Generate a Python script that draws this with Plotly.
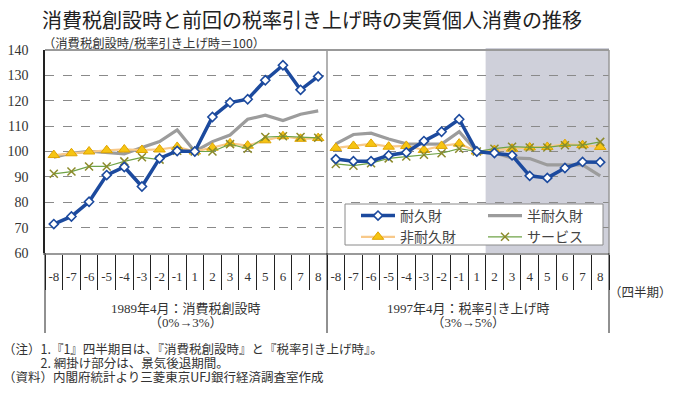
import plotly.graph_objects as go

# ---------------- data ----------------
quarters = ["-8", "-7", "-6", "-5", "-4", "-3", "-2", "-1", "1", "2", "3", "4", "5", "6", "7", "8"]
period_labels = ["1989年4月：消費税創設時", "1997年4月：税率引き上げ時"]
period_rates = ["（0%→3%）", "（3%→5%）"]
series_names = ["耐久財", "半耐久財", "非耐久財", "サービス"]

durable_1989 = [71.4, 74.4, 80.2, 90.7, 93.9, 86.2, 97.3, 100.2, 100.0, 113.6, 119.3, 120.6, 128.1, 134.0, 124.3, 129.6]
durable_1997 = [97.0, 96.2, 96.2, 98.5, 99.6, 104.1, 107.8, 112.7, 100.0, 99.4, 98.5, 90.4, 89.6, 93.5, 95.9, 95.8]
semi_1989 = [97.8, 99.3, 100.1, 99.6, 99.1, 101.6, 103.9, 108.5, 100.0, 103.9, 106.5, 112.7, 114.3, 112.2, 114.7, 116.0]
semi_1997 = [103.0, 106.7, 107.2, 104.9, 103.0, 102.9, 102.9, 107.8, 100.0, 99.4, 97.5, 97.2, 94.7, 94.7, 94.7, 90.4]
nondur_1989 = [98.6, 99.3, 100.0, 100.5, 100.8, 100.6, 100.8, 101.8, 100.0, 101.5, 103.2, 102.3, 104.4, 106.0, 105.0, 105.3]
nondur_1997 = [101.4, 102.2, 103.0, 101.9, 102.2, 100.6, 102.2, 103.1, 100.0, 100.6, 101.1, 101.6, 101.8, 102.9, 102.5, 101.8]
service_1989 = [91.2, 92.1, 94.1, 94.1, 96.1, 97.7, 96.8, 100.3, 100.0, 100.0, 102.9, 101.1, 105.7, 106.0, 105.7, 105.4]
service_1997 = [95.1, 94.4, 95.4, 97.3, 98.0, 98.7, 99.3, 101.1, 100.0, 101.1, 101.9, 101.6, 101.6, 102.5, 102.5, 103.8]

recession_start = ("1997", "2")  # shaded from this quarter of the 1997 panel to the end

y_ticks = [60, 70, 80, 90, 100, 110, 120, 130, 140]

# ---------------- layout geometry ----------------
W, H = 673, 397
L, R, T, B = 45, 64, 50, 144
PW, PH = W - L - R, H - T - B

def px(x):
    return (x - L) / PW

def py(y):
    return (H - B - y) / PH

JP = "Noto Sans CJK JP"
SERIF = "Liberation Serif, Noto Sans CJK JP"

n_q = len(quarters)
n_cat = 2 * n_q
pos_left = list(range(n_q))
pos_right = list(range(n_q, n_cat))

fig = go.Figure()

styles = {
    "半耐久財": dict(mode="lines", line=dict(color="#9c9c9c", width=3.2), legendrank=1, legend="legend2"),
    "非耐久財": dict(mode="lines+markers", line=dict(color="#f8c98a", width=2.2),
                  marker=dict(symbol="triangle-up", size=10, color="#f6c412", line=dict(color="#e0a400", width=1)),
                  legendrank=2, legend="legend"),
    "サービス": dict(mode="lines+markers", line=dict(color="#6fa347", width=1.2),
                  marker=dict(symbol="x-thin", size=8, color="#8c8a2a", line=dict(color="#8c8a2a", width=1.5)),
                  legendrank=2, legend="legend2"),
    "耐久財": dict(mode="lines+markers", line=dict(color="#1c4a9e", width=3.5),
                marker=dict(symbol="diamond", size=7, color="white", line=dict(color="#1c4a9e", width=1.6)),
                legendrank=1, legend="legend"),
}
data = {
    "耐久財": (durable_1989, durable_1997),
    "半耐久財": (semi_1989, semi_1997),
    "非耐久財": (nondur_1989, nondur_1997),
    "サービス": (service_1989, service_1997),
}

for name in ["半耐久財", "非耐久財", "サービス", "耐久財"]:
    a, b = data[name]
    st = styles[name]
    fig.add_trace(go.Scatter(x=pos_left, y=a, name=name, showlegend=True, legendgroup=name, **st))
    fig.add_trace(go.Scatter(x=pos_right, y=b, name=name, showlegend=False, legendgroup=name, **st))

rec_idx = n_q + quarters.index(recession_start[1])

shapes = [
    # recession shading (above grid, below traces)
    dict(type="rect", xref="paper", yref="paper", x0=rec_idx / n_cat, x1=1, y0=0, y1=1.01,
         fillcolor="#cfd0da", line=dict(width=0), layer="between"),
    # panel divider inside plot
    dict(type="line", xref="paper", yref="paper", x0=0.5, x1=0.5, y0=0, y1=1,
         line=dict(color="#999999", width=1.5), layer="above"),
    # top border
    dict(type="line", xref="paper", yref="paper", x0=0, x1=1, y0=1, y1=1,
         line=dict(color="#999999", width=2), layer="above"),
    # right border
    dict(type="line", xref="paper", yref="paper", x0=1, x1=1, y0=0, y1=1,
         line=dict(color="#999999", width=1.5), layer="above"),
    # legend box
    dict(type="rect", xref="paper", yref="paper", x0=px(345), x1=px(603), y0=py(245), y1=py(204),
         fillcolor="white", line=dict(color="#8a8a8a", width=1), layer="above"),
]
# long dividers of the label table below the plot
for k in (0, n_q, n_cat):
    shapes.append(dict(type="line", xref="paper", yref="paper", x0=k / n_cat, x1=k / n_cat,
                       y0=0, y1=py(333), line=dict(color="#222222", width=1)))

notes = ("<span style='font-size:12.5px'>（注）1.『1』四半期目は、『消費税創設時』と『税率引き上げ時』。</span><br>"
         "<span style='font-size:12.5px'>\u3000\u3000\u30002. 網掛け部分は、景気後退期間。</span><br>"
         "<span style='font-size:12.5px'>（資料）内閣府統計より三菱東京UFJ銀行経済調査室作成</span>")

annotations = [
    dict(text="消費税創設時と前回の税率引き上げ時の実質個人消費の推移", x=px(40), y=py(19),
         xanchor="left", yanchor="middle", font=dict(family=JP, size=20, color="#222222")),
    dict(text="（消費税創設時/税率引き上げ時＝100）", x=px(41), y=py(43),
         xanchor="left", yanchor="middle", font=dict(family=JP, size=12.3, color="#333333")),
    dict(text="（四半期）", x=px(640), y=py(291), xanchor="center", yanchor="middle",
         font=dict(family=JP, size=12.5, color="#333333")),
    dict(text=notes, x=px(1), y=py(336.5), align="left",
         xanchor="left", yanchor="top", font=dict(family=JP, size=10.9, color="#333333")),
]
for i in range(2):
    annotations.append(dict(
        text=f"<span style='font-size:13px'>{period_labels[i]}</span><br>"
             f"<span style='font-size:13px'>{period_rates[i]}</span>",
        x=(i * n_q + n_q / 2) / n_cat, y=py(315.5), xanchor="center", yanchor="middle", align="center",
        font=dict(family=SERIF, size=10.6, color="#333333")))
for a in annotations:
    a.update(xref="paper", yref="paper", showarrow=False)

legend_common = dict(
    orientation="v", traceorder="normal", yanchor="top", xanchor="left",
    bgcolor="rgba(0,0,0,0)", borderwidth=0, tracegroupgap=0,
    font=dict(family=JP, size=14, color="#444444"), itemwidth=34,
    itemclick=False, itemdoubleclick=False,
)

fig.update_layout(
    width=W, height=H,
    margin=dict(l=L, r=R, t=T, b=B, autoexpand=False),
    paper_bgcolor="white", plot_bgcolor="white",
    shapes=shapes, annotations=annotations,
    legend=dict(x=px(356), y=py(200), **legend_common),
    legend2=dict(x=px(483), y=py(200), **legend_common),
    xaxis=dict(
        automargin=False,
        range=[-0.5, n_cat - 0.5],
        tickmode="array", tickvals=pos_left + pos_right, ticktext=quarters + quarters,
        tickangle=0, ticks="", ticklabelstandoff=10,
        showgrid=False, zeroline=False,
        showline=True, linecolor="#999999", linewidth=2,
        minor=dict(tickvals=[k - 0.5 for k in range(n_cat + 1)], ticks="outside", ticklen=35,
                   tickcolor="#222222", tickwidth=1, showgrid=False),
        tickfont=dict(family=SERIF, size=13, color="#333333"),
        fixedrange=True,
    ),
    yaxis=dict(
        automargin=False,
        range=[60, 140], tickvals=y_ticks, ticktext=[str(v) for v in y_ticks],
        showgrid=True, gridcolor="#8a8a8a", griddash="dash", gridwidth=1,
        zeroline=False, showline=True, linecolor="#222222", linewidth=1.5,
        ticks="", ticklabelstandoff=12,
        tickfont=dict(family="Liberation Serif", size=14, color="#333333"),
        fixedrange=True,
    ),
    showlegend=True,
)

fig.write_html(
    "out.html",
    config={"displayModeBar": False},
    post_script="document.body.style.margin='0';document.body.style.padding='0';document.body.style.overflow='hidden';",
)
